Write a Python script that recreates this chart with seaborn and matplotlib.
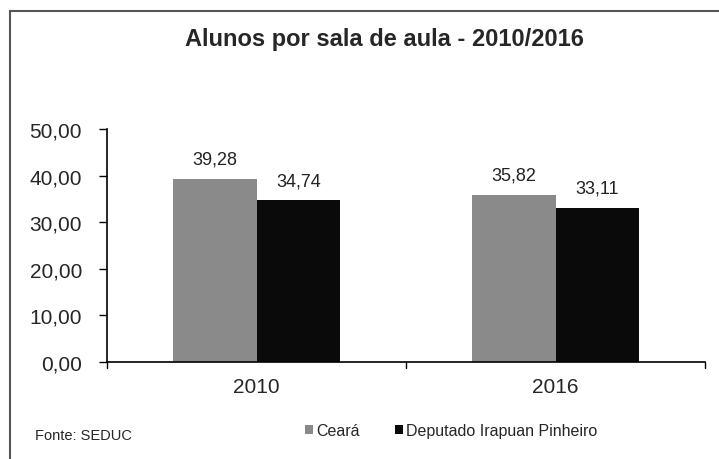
import pandas as pd
import matplotlib.pyplot as plt
import seaborn as sns
from matplotlib.patches import Rectangle

# data
anos = ["2010", "2016"]
ceara = [39.28, 35.82]
deputado = [34.74, 33.11]
series = ["Ceará", "Deputado Irapuan Pinheiro"]
yticks = [0, 10, 20, 30, 40, 50]

df = pd.DataFrame({
    "ano": anos * 2,
    "valor": ceara + deputado,
    "serie": [series[0]] * 2 + [series[1]] * 2,
})

sns.set_style("white")
plt.rcParams["font.family"] = ["Liberation Sans", "DejaVu Sans"]

fig = plt.figure(figsize=(7.19, 4.60), dpi=100)
ax = fig.add_axes([107 / 719, 1 - 363 / 460, (705 - 107) / 719, (363 - 130) / 460])

sns.barplot(data=df, x="ano", y="valor", hue="serie", hue_order=series,
            palette=["#8a8a8a", "#0a0a0a"], width=0.56, saturation=1,
            edgecolor="none", ax=ax)

for cont in ax.containers:
    labels = [f"{v:.2f}".replace(".", ",") for v in cont.datavalues]
    ax.bar_label(cont, labels=labels, padding=8, fontsize=13, color="#222222")

ax.set_ylim(0, 50)
ax.set_xlim(-0.5, 1.5)
ax.set_yticks(yticks)
ax.set_yticklabels([f"{t:.2f}".replace(".", ",") for t in yticks], fontsize=15)
ax.tick_params(axis="y", direction="out", length=6, width=1, color="black", left=True, pad=12)
ax.tick_params(axis="x", bottom=False, labelsize=15, pad=7)
# category divider ticks on the x axis
for xv in [-0.5, 0.5, 1.5]:
    ax.plot([xv, xv], [0, -1.2], color="black", lw=1, clip_on=False)
ax.set_xlabel("")
ax.set_ylabel("")
for s in ["top", "right"]:
    ax.spines[s].set_visible(False)
for s in ["left", "bottom"]:
    ax.spines[s].set_color("black")
    ax.spines[s].set_linewidth(1.2)

fig.text(0.535, 1 - 40 / 460, "Alunos por sala de aula - 2010/2016",
         ha="center", va="center", fontsize=17, fontweight="bold")

leg = ax.legend(loc="center", bbox_to_anchor=(0.628, 1 - 432 / 460), bbox_transform=fig.transFigure,
                ncol=2, frameon=False, fontsize=11.5, handlelength=0.5, handleheight=0.5,
                handletextpad=0.2, columnspacing=2.2)

fig.text(35 / 719, 1 - 436 / 460, "Fonte: SEDUC", ha="left", va="center", fontsize=10.5)

# outer frame of the chart
fig.patches.append(Rectangle((10 / 719, -0.05), 1.2, 1 - 12 / 460 + 0.05,
                             transform=fig.transFigure, fill=False,
                             edgecolor="#555555", lw=1.5))

fig.savefig("out.png", dpi=100)
